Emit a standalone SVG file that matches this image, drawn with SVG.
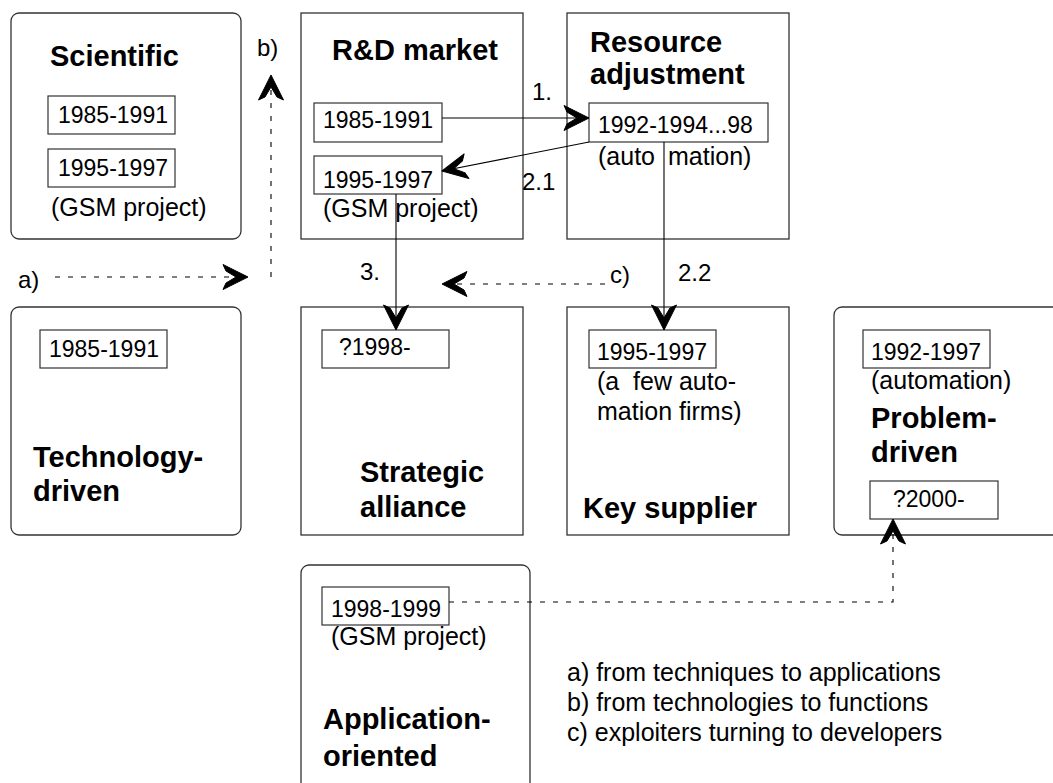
<svg xmlns="http://www.w3.org/2000/svg" width="1053" height="783" viewBox="0 0 1053 783">
  <style>
    .box { fill: #fff; stroke: #333; stroke-width: 1.3; }
    .tag { fill: #fff; stroke: #333; stroke-width: 1.2; }
    text { font-family: "Liberation Sans", Arial, Helvetica, sans-serif; fill: #000; }
    .title { font-size: 29px; font-weight: bold; }
    .date { font-size: 23px; }
    .note { font-size: 25px; }
    .lbl { font-size: 24px; }
    .solid { fill: none; stroke: #000; stroke-width: 1.1; }
    .dash { fill: none; stroke: #000; stroke-width: 1.1; stroke-dasharray: 5 8; }
  </style>
  <defs>
    <!-- barbed arrowhead shared by every connector -->
    <marker id="head" viewBox="-27 -14 28 28" refX="0" refY="0" markerWidth="28" markerHeight="28" markerUnits="userSpaceOnUse" orient="auto">
      <path d="M0,0 L-25,-12.5 L-22,-6 L-12,0 L-22,6 L-25,12.5 Z" fill="#000" stroke="#000" stroke-width="1" stroke-linejoin="round"/>
    </marker>
  </defs>
  <rect width="1053" height="783" fill="#fff"/>

  <!-- top row -->
  <g id="scientific">
    <rect class="box" x="11" y="13" width="230" height="226" rx="8"/>
    <text class="title" x="50" y="66">Scientific</text>
    <rect class="tag" x="48" y="96" width="127" height="38"/>
    <text class="date" x="58" y="123">1985-1991</text>
    <rect class="tag" x="48" y="149" width="127" height="38"/>
    <text class="date" x="58" y="176">1995-1997</text>
    <text class="note" x="51" y="216">(GSM project)</text>
  </g>

  <g id="rd-market">
    <rect class="box" x="301" y="13" width="222" height="226"/>
    <text class="title" x="332" y="60">R&amp;D market</text>
    <rect class="tag" x="314" y="103" width="128" height="39"/>
    <text class="date" x="323" y="128">1985-1991</text>
    <rect class="tag" x="314" y="156" width="128" height="38"/>
    <text class="date" x="323" y="188">1995-1997</text>
    <text class="note" x="323" y="217">(GSM project)</text>
  </g>

  <g id="resource-adjustment">
    <rect class="box" x="567" y="13" width="222" height="226"/>
    <text class="title" x="590" y="52">Resource</text>
    <text class="title" x="590" y="84">adjustment</text>
    <rect class="tag" x="589" y="103" width="179" height="39"/>
    <text class="date" x="598" y="133">1992-1994...98</text>
    <text class="note" y="165"><tspan x="598">(auto</tspan><tspan x="668">mation)</tspan></text>
  </g>

  <!-- middle row -->
  <g id="technology-driven">
    <rect class="box" x="11" y="307" width="230" height="228" rx="8"/>
    <rect class="tag" x="40" y="330" width="127" height="38"/>
    <text class="date" x="49" y="357">1985-1991</text>
    <text class="title" x="33" y="467">Technology-</text>
    <text class="title" x="33" y="501">driven</text>
  </g>

  <g id="strategic-alliance">
    <rect class="box" x="301" y="307" width="222" height="228"/>
    <rect class="tag" x="322" y="330" width="127" height="38"/>
    <text class="date" x="339" y="355">?1998-</text>
    <text class="title" x="360" y="482">Strategic</text>
    <text class="title" x="360" y="517">alliance</text>
  </g>

  <g id="key-supplier">
    <rect class="box" x="567" y="307" width="222" height="228"/>
    <rect class="tag" x="589" y="330" width="127" height="38"/>
    <text class="date" x="597" y="360">1995-1997</text>
    <text class="note" x="597" y="390" xml:space="preserve">(a  few auto-</text>
    <text class="note" x="597" y="420">mation firms)</text>
    <text class="title" x="583" y="518">Key supplier</text>
  </g>

  <g id="problem-driven">
    <rect class="box" x="834" y="307" width="240" height="228" rx="8"/>
    <rect class="tag" x="863" y="330" width="127" height="38"/>
    <text class="date" x="871" y="360">1992-1997</text>
    <text class="note" x="871" y="389">(automation)</text>
    <text class="title" x="871" y="428">Problem-</text>
    <text class="title" x="871" y="462">driven</text>
    <rect class="tag" x="870" y="481" width="128" height="38"/>
    <text class="date" x="893" y="507">?2000-</text>
  </g>

  <!-- bottom row -->
  <g id="application-oriented">
    <rect class="box" x="301" y="565" width="229" height="240" rx="8"/>
    <rect class="tag" x="322" y="587" width="127" height="38"/>
    <text class="date" x="331" y="617">1998-1999</text>
    <text class="note" x="331" y="645">(GSM project)</text>
    <text class="title" x="323" y="729">Application-</text>
    <text class="title" x="323" y="766">oriented</text>
  </g>

  <g id="legend">
    <text class="note" x="567" y="681">a) from techniques to applications</text>
    <text class="note" x="567" y="711">b) from technologies to functions</text>
    <text class="note" x="567" y="741">c) exploiters turning to developers</text>
  </g>

  <g id="connectors">
    <line class="solid" x1="442" y1="118" x2="589" y2="118" marker-end="url(#head)"/>
    <line class="solid" x1="589" y1="142" x2="442" y2="171" marker-end="url(#head)"/>
    <line class="solid" x1="396" y1="194" x2="396" y2="330" marker-end="url(#head)"/>
    <line class="solid" x1="664" y1="142" x2="664" y2="330" marker-end="url(#head)"/>
    <line class="dash" x1="605" y1="284" x2="442" y2="284" marker-end="url(#head)"/>
    <line class="dash" x1="55" y1="277" x2="248" y2="277" marker-end="url(#head)"/>
    <line class="dash" x1="271" y1="277" x2="271" y2="75" marker-end="url(#head)"/>
    <polyline class="dash" points="449,602 893,602 893,519" marker-end="url(#head)"/>
    <text class="lbl" x="532" y="100">1.</text>
    <text class="lbl" x="522" y="190">2.1</text>
    <text class="lbl" x="360" y="280">3.</text>
    <text class="lbl" x="678" y="281">2.2</text>
    <text class="lbl" x="610" y="283">c)</text>
    <text class="lbl" x="18" y="288">a)</text>
    <text class="lbl" x="257" y="56">b)</text>
  </g>
</svg>
